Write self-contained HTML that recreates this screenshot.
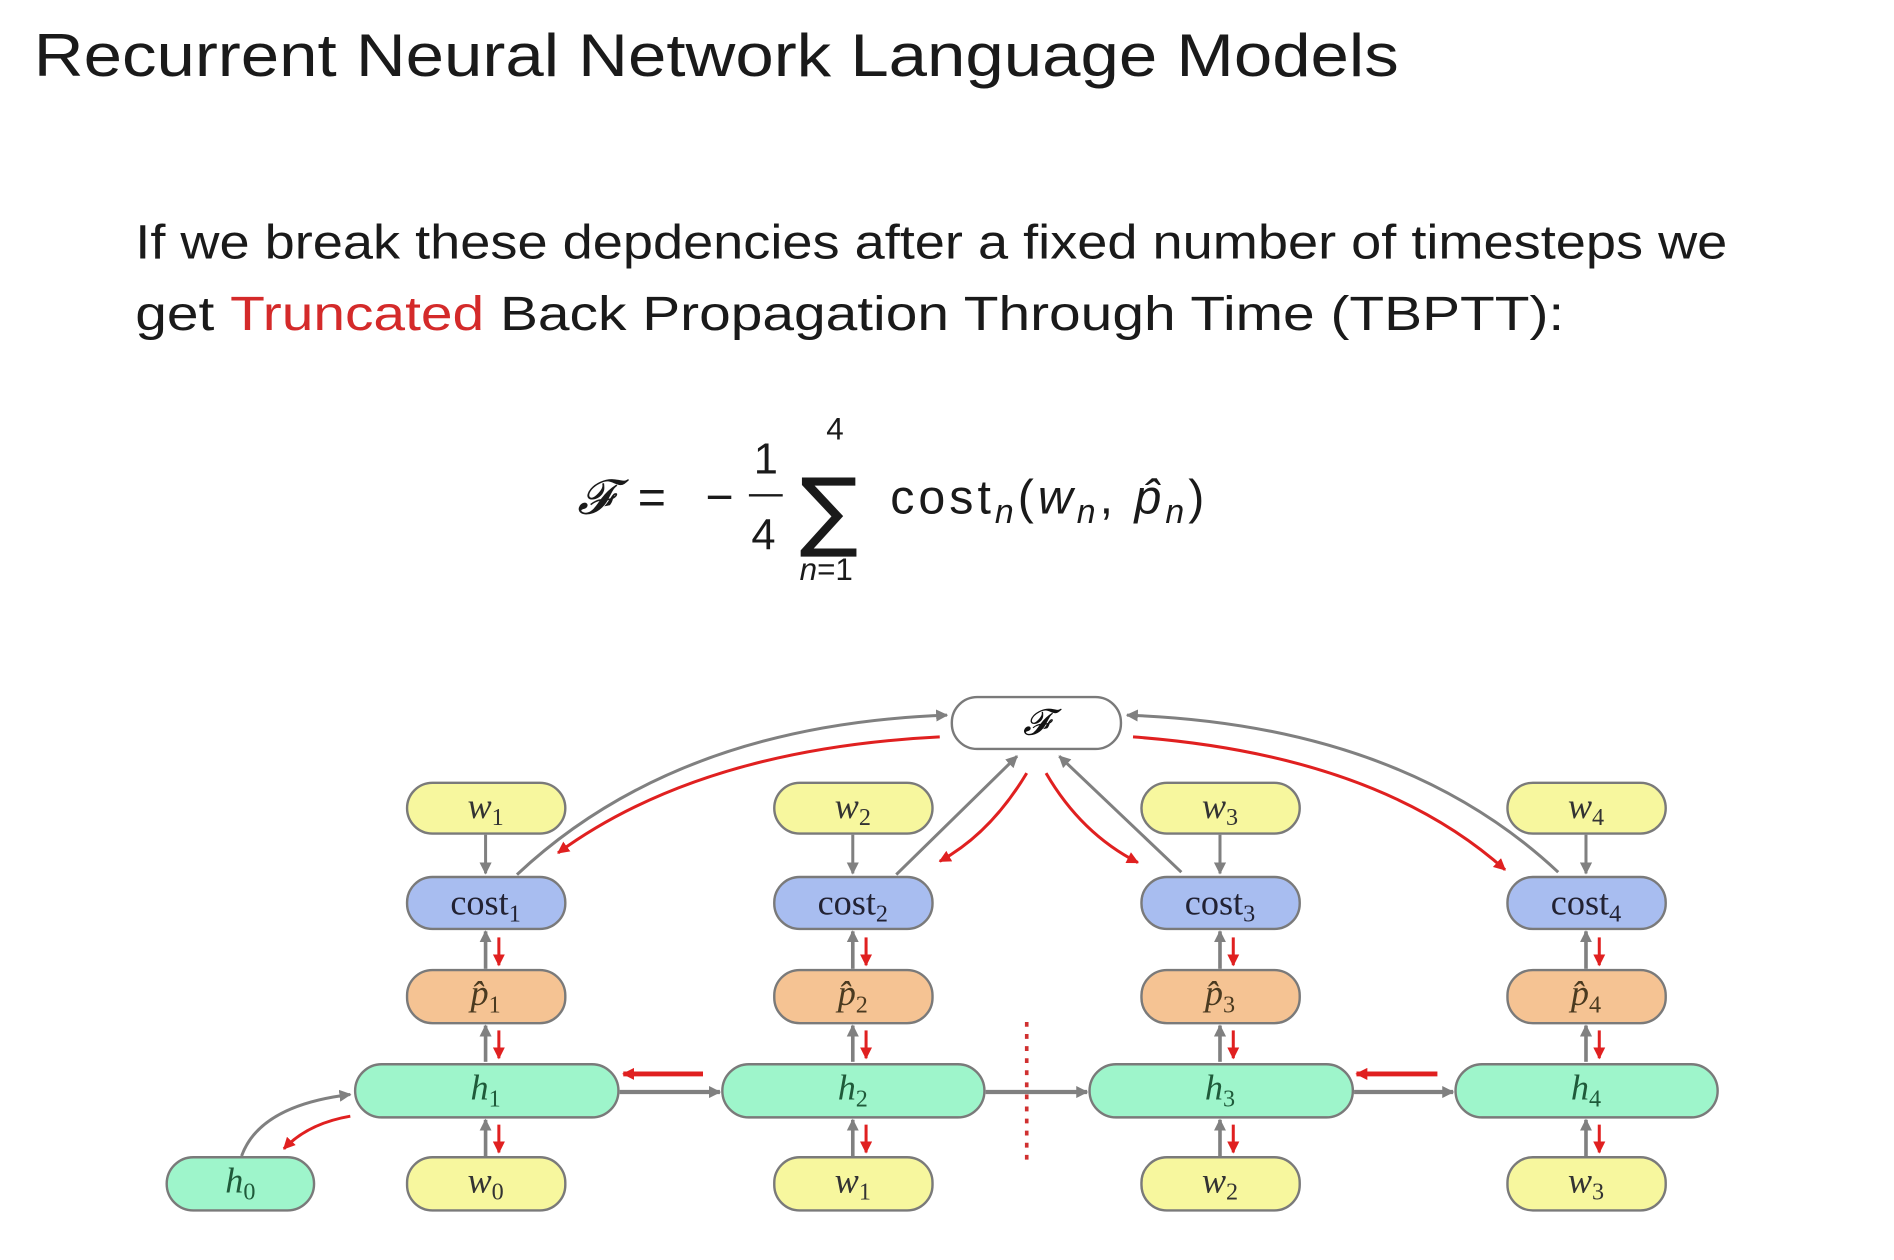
<!DOCTYPE html>
<html><head><meta charset="utf-8"><style>
html,body{margin:0;padding:0;background:#fff;}
svg{display:block}
.t{font-family:"Liberation Sans",sans-serif;fill:#1a1a1a}
.m{font-family:"Liberation Serif",serif;font-style:italic;fill:#333;font-size:30px}
.s{font-size:20px;font-style:normal}
</style></head><body>
<svg width="1894" height="1260" viewBox="0 0 1568 1043" xmlns="http://www.w3.org/2000/svg">
<defs>
<marker id="ag" markerWidth="10" markerHeight="10" refX="9" refY="5" orient="auto" markerUnits="userSpaceOnUse"><path d="M0,0 L10,5 L0,10 Z" fill="#808080"/></marker>
<marker id="ar" markerWidth="10" markerHeight="10" refX="9" refY="5" orient="auto" markerUnits="userSpaceOnUse"><path d="M0,0 L10,5 L0,10 Z" fill="#e02020"/></marker>
</defs>
<rect width="1568" height="1043" fill="#fff"/>
<text class="t" x="28" y="63" font-size="50" textLength="1130" lengthAdjust="spacingAndGlyphs">Recurrent Neural Network Language Models</text>
<text class="t" x="112" y="214" font-size="40" textLength="1318" lengthAdjust="spacingAndGlyphs">If we break these depdencies after a fixed number of timesteps we</text>
<text class="t" x="112" y="273" font-size="40" textLength="1183" lengthAdjust="spacingAndGlyphs">get <tspan fill="#d42a2a">Truncated</tspan> Back Propagation Through Time (TBPTT):</text>
<!-- formula -->
<g class="t" font-size="40">
<text x="478" y="425" font-family="Liberation Serif" font-style="italic">𝓕</text>
<text x="528" y="425">=</text>
<text x="584" y="425">−</text>
<text x="624" y="392" font-size="36">1</text>
<line x1="620" y1="410" x2="648" y2="410" stroke="#1a1a1a" stroke-width="2"/>
<text x="622" y="455" font-size="36">4</text>
<text x="662" y="447" font-size="72" font-family="DejaVu Sans">∑</text>
<text x="684" y="364" font-size="26">4</text>
<text x="662" y="480" font-size="26"><tspan font-style="italic">n</tspan>=1</text>
<text x="737" y="425" textLength="260" lengthAdjust="spacing">cost<tspan font-size="28" font-style="italic" dy="8">n</tspan><tspan dy="-8">(</tspan><tspan font-style="italic">w</tspan><tspan font-size="28" font-style="italic" dy="8">n</tspan><tspan dy="-8">, </tspan><tspan font-style="italic">p̂</tspan><tspan font-size="28" font-style="italic" dy="8">n</tspan><tspan dy="-8">)</tspan></text>
</g>
<!-- curves -->
<g fill="none" stroke-width="2.5">
<path d="M428,724 Q560,600 784,592" stroke="#808080" marker-end="url(#ag)"/>
<path d="M778,610 Q580,620 462,706" stroke="#e02020" marker-end="url(#ar)"/>
<path d="M742,724 L842,626" stroke="#808080" marker-end="url(#ag)"/>
<path d="M850,640 Q820,690 778,713" stroke="#e02020" marker-end="url(#ar)"/>
<path d="M978,722 L877,626" stroke="#808080" marker-end="url(#ag)"/>
<path d="M866,640 Q895,690 942,714" stroke="#e02020" marker-end="url(#ar)"/>
<path d="M1290,722 Q1160,600 933,592" stroke="#808080" marker-end="url(#ag)"/>
<path d="M938,610 Q1140,625 1246,720" stroke="#e02020" marker-end="url(#ar)"/>
<path d="M200,957 Q215,915 290,906" stroke="#808080" marker-end="url(#ag)"/>
<path d="M290,924 Q255,930 235,951" stroke="#e02020" marker-end="url(#ar)"/>
<line x1="850" y1="846" x2="850" y2="960" stroke="#d03030" stroke-dasharray="4,6" stroke-width="3"/>
</g>
<g fill="none" stroke-width="2.5">
<path d="M402,691 V723" stroke="#808080" marker-end="url(#ag)"/>
<path d="M706,691 V723" stroke="#808080" marker-end="url(#ag)"/>
<path d="M1010,691 V723" stroke="#808080" marker-end="url(#ag)"/>
<path d="M1313,691 V723" stroke="#808080" marker-end="url(#ag)"/>
<g stroke="#808080" stroke-width="3" marker-end="url(#ag)">
<path d="M402,802 V771"/><path d="M402,879 V849"/><path d="M402,957 V927"/>
<path d="M706,802 V771"/><path d="M706,879 V849"/><path d="M706,957 V927"/>
<path d="M1010,802 V771"/><path d="M1010,879 V849"/><path d="M1010,957 V927"/>
<path d="M1313,802 V771"/><path d="M1313,879 V849"/><path d="M1313,957 V927"/>
</g>
<g stroke="#e02020" marker-end="url(#ar)">
<path d="M413,776 V799"/><path d="M413,853 V876"/><path d="M413,931 V954"/>
<path d="M717,776 V799"/><path d="M717,853 V876"/><path d="M717,931 V954"/>
<path d="M1021,776 V799"/><path d="M1021,853 V876"/><path d="M1021,931 V954"/>
<path d="M1324,776 V799"/><path d="M1324,853 V876"/><path d="M1324,931 V954"/>
</g>
<g stroke="#808080" stroke-width="3.5" marker-end="url(#ag)">
<path d="M513,904 H596"/><path d="M816,904 H900"/><path d="M1121,904 H1203"/>
</g>
<g stroke="#e02020" stroke-width="4" marker-end="url(#ar)">
<path d="M582,889 H516"/><path d="M1190,889 H1123"/>
</g>
</g>
<!-- boxes -->
<g stroke="#7a7a7a" stroke-width="2">
<rect x="788" y="577" width="140" height="43" rx="21" fill="#fff"/>
<rect x="337" y="648" width="131" height="42" rx="21" fill="#f7f79e"/>
<rect x="641" y="648" width="131" height="42" rx="21" fill="#f7f79e"/>
<rect x="945" y="648" width="131" height="42" rx="21" fill="#f7f79e"/>
<rect x="1248" y="648" width="131" height="42" rx="21" fill="#f7f79e"/>
<rect x="337" y="726" width="131" height="43" rx="21" fill="#a8bdf0"/>
<rect x="641" y="726" width="131" height="43" rx="21" fill="#a8bdf0"/>
<rect x="945" y="726" width="131" height="43" rx="21" fill="#a8bdf0"/>
<rect x="1248" y="726" width="131" height="43" rx="21" fill="#a8bdf0"/>
<rect x="337" y="803" width="131" height="44" rx="21" fill="#f5c393"/>
<rect x="641" y="803" width="131" height="44" rx="21" fill="#f5c393"/>
<rect x="945" y="803" width="131" height="44" rx="21" fill="#f5c393"/>
<rect x="1248" y="803" width="131" height="44" rx="21" fill="#f5c393"/>
<rect x="294" y="881" width="218" height="44" rx="22" fill="#9ef5cb"/>
<rect x="598" y="881" width="217" height="44" rx="22" fill="#9ef5cb"/>
<rect x="902" y="881" width="218" height="44" rx="22" fill="#9ef5cb"/>
<rect x="1205" y="881" width="217" height="44" rx="22" fill="#9ef5cb"/>
<rect x="138" y="958" width="122" height="44" rx="22" fill="#9ef5cb"/>
<rect x="337" y="958" width="131" height="44" rx="21" fill="#f7f79e"/>
<rect x="641" y="958" width="131" height="44" rx="21" fill="#f7f79e"/>
<rect x="945" y="958" width="131" height="44" rx="21" fill="#f7f79e"/>
<rect x="1248" y="958" width="131" height="44" rx="21" fill="#f7f79e"/>
</g>
<g class="m" text-anchor="middle">
<text x="858" y="608" fill="#111">𝓕</text>
<text x="402" y="677">w<tspan class="s" dy="6">1</tspan></text>
<text x="706" y="677">w<tspan class="s" dy="6">2</tspan></text>
<text x="1010" y="677">w<tspan class="s" dy="6">3</tspan></text>
<text x="1313" y="677">w<tspan class="s" dy="6">4</tspan></text>
<text x="402" y="757" font-style="normal" fill="#223">cost<tspan class="s" dy="6">1</tspan></text>
<text x="706" y="757" font-style="normal" fill="#223">cost<tspan class="s" dy="6">2</tspan></text>
<text x="1010" y="757" font-style="normal" fill="#223">cost<tspan class="s" dy="6">3</tspan></text>
<text x="1313" y="757" font-style="normal" fill="#223">cost<tspan class="s" dy="6">4</tspan></text>
<text x="402" y="832" fill="#4a3a20">p̂<tspan class="s" dy="6">1</tspan></text>
<text x="706" y="832" fill="#4a3a20">p̂<tspan class="s" dy="6">2</tspan></text>
<text x="1010" y="832" fill="#4a3a20">p̂<tspan class="s" dy="6">3</tspan></text>
<text x="1313" y="832" fill="#4a3a20">p̂<tspan class="s" dy="6">4</tspan></text>
<text x="402" y="910" fill="#1f5a3a">h<tspan class="s" dy="6">1</tspan></text>
<text x="706" y="910" fill="#1f5a3a">h<tspan class="s" dy="6">2</tspan></text>
<text x="1010" y="910" fill="#1f5a3a">h<tspan class="s" dy="6">3</tspan></text>
<text x="1313" y="910" fill="#1f5a3a">h<tspan class="s" dy="6">4</tspan></text>
<text x="199" y="987" fill="#1f5a3a">h<tspan class="s" dy="6">0</tspan></text>
<text x="402" y="987">w<tspan class="s" dy="6">0</tspan></text>
<text x="706" y="987">w<tspan class="s" dy="6">1</tspan></text>
<text x="1010" y="987">w<tspan class="s" dy="6">2</tspan></text>
<text x="1313" y="987">w<tspan class="s" dy="6">3</tspan></text>
</g>
</svg>
</body></html>
